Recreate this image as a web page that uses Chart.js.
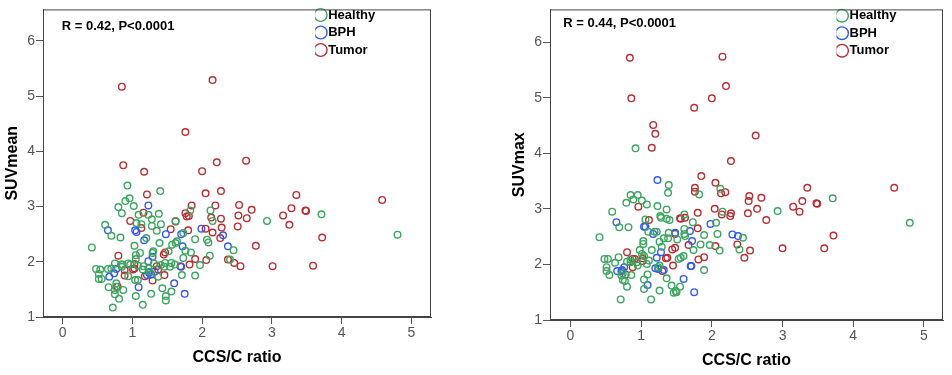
<!DOCTYPE html>
<html>
<head>
<meta charset="utf-8">
<script src="https://cdn.jsdelivr.net/npm/chart.js@4/dist/chart.umd.min.js"></script>
<style>
  body { margin: 0; background: #fff; }
  .wrap { display: flex; width: 952px; height: 375px; }
  .wrap div { width: 476px; height: 375px; }
</style>
</head>
<body>
<div class="wrap">
  <div><canvas id="mean-chart" width="476" height="375"></canvas></div>
  <div><canvas id="max-chart" width="476" height="375"></canvas></div>
</div>
<script>
// tick labels
const xTicks = [0, 1, 2, 3, 4, 5]
const yTicks = [1, 2, 3, 4, 5, 6]
const groups = ['Healthy', 'BPH', 'Tumor']
const colors = ['rgb(60,165,95)', 'rgb(50,90,240)', 'rgb(185,45,50)']

// SUVmean vs CCS/C ratio, [x, y]
const meanHealthy = [
  [0.93,3.38],[0.96,3.15],[0.90,3.10],[0.80,2.99],[1.02,3.01],[0.85,2.88],[1.40,3.28],[1.23,2.85],
  [1.38,2.87],[1.09,2.85],[1.28,2.77],[2.12,2.93],[1.83,2.93],[3.71,2.86],[2.93,2.74],[1.06,2.70],
  [1.13,2.68],[1.28,2.65],[1.35,2.56],[1.41,2.68],[1.62,2.74],[2.15,2.74],[0.61,2.67],[0.70,2.47],
  [0.83,2.44],[1.20,2.43],[1.39,2.34],[4.80,2.49],[1.90,2.41],[2.07,2.40],[2.09,2.35],[1.62,2.34],
  [1.64,2.37],[1.57,2.31],[1.73,2.52],[0.42,2.26],[1.03,2.29],[1.11,2.16],[1.30,2.19],[1.05,2.12],
  [1.05,2.05],[1.29,2.16],[1.84,2.17],[1.76,2.20],[2.45,2.21],[2.11,2.11],[2.40,2.04],[1.73,2.07],
  [1.52,2.19],[0.48,1.87],[0.54,1.86],[0.52,1.78],[0.52,1.69],[0.56,1.69],[0.65,1.87],[0.70,1.88],
  [0.75,1.97],[0.85,1.91],[0.86,1.95],[0.94,1.97],[0.97,1.95],[1.08,1.93],[1.16,1.92],[1.15,1.86],
  [0.94,1.74],[1.08,1.67],[1.04,1.67],[1.37,1.73],[1.46,1.91],[1.47,1.98],[1.54,1.91],[1.56,1.98],
  [1.61,1.95],[1.97,1.94],[0.66,1.54],[0.77,1.61],[0.77,1.55],[0.75,1.49],[0.75,1.41],[0.81,1.33],
  [0.87,1.49],[0.72,1.17],[1.05,1.38],[1.15,1.22],[1.27,1.42],[1.43,1.52],[1.48,1.38],[1.48,1.30],
  [1.56,1.46],[1.71,1.76],[1.90,1.75],[1.23,1.88],[1.25,1.82],[1.31,1.97],[1.41,1.94],[0.84,1.95]
]
const meanBph = [
  [1.23,3.02],[0.65,2.57],[1.04,2.57],[1.06,2.54],[1.17,2.39],[1.48,2.50],[1.70,2.50],[1.99,2.60],
  [2.30,2.48],[1.72,2.28],[2.37,2.28],[1.29,2.09],[1.23,2.01],[1.70,1.91],[0.67,1.73],[0.74,1.79],
  [0.77,1.87],[1.24,1.80],[1.27,1.77],[1.32,1.82],[1.21,1.76],[1.09,1.54],[1.60,1.61],[1.75,1.42]
]
const meanTumor = [
  [0.85,5.17],[2.15,5.29],[1.76,4.35],[0.87,3.75],[1.17,3.63],[2.21,3.80],[2.63,3.83],[2.00,3.64],
  [1.21,3.22],[2.05,3.24],[2.27,3.28],[3.35,3.21],[4.58,3.12],[1.85,3.02],[2.19,3.02],[2.53,3.03],
  [2.71,2.94],[3.28,2.97],[3.48,2.93],[3.49,2.92],[3.16,2.84],[1.76,2.88],[1.78,2.82],[1.81,2.83],
  [1.16,2.89],[0.97,2.74],[1.62,2.73],[2.27,2.78],[2.13,2.80],[2.64,2.79],[2.52,2.84],[3.25,2.67],
  [1.13,2.61],[1.55,2.59],[1.80,2.57],[2.05,2.60],[2.15,2.53],[2.28,2.62],[2.51,2.64],[2.26,2.43],
  [3.72,2.44],[2.77,2.29],[0.80,2.11],[1.47,2.17],[1.45,2.13],[1.90,2.05],[2.06,2.03],[2.37,2.04],
  [2.46,1.98],[2.55,1.92],[3.01,1.92],[3.59,1.93],[1.82,1.95],[1.69,1.92],[1.03,1.96],[1.03,1.88],
  [0.89,1.85],[0.89,1.75],[1.18,1.74],[1.35,1.92],[1.37,1.86],[1.46,1.76],[1.29,1.66],[0.79,1.55],
  [1.01,1.86]
]

// SUVmax vs CCS/C ratio, [x, y]
const maxHealthy = [
  [0.92,4.09],[1.39,3.43],[1.38,3.29],[0.85,3.25],[0.95,3.25],[0.89,3.17],[1.01,3.15],[1.08,3.08],
  [0.79,3.11],[1.23,3.05],[1.36,2.99],[0.59,2.95],[1.82,3.26],[2.12,3.36],[3.71,3.19],[2.93,2.96],
  [2.15,2.95],[1.61,2.90],[1.27,2.87],[1.28,2.84],[1.36,2.82],[1.40,2.80],[1.06,2.81],[2.06,2.75],
  [1.73,2.76],[0.69,2.67],[0.82,2.67],[1.10,2.59],[1.19,2.59],[1.39,2.57],[1.61,2.64],[1.61,2.55],
  [1.62,2.51],[1.89,2.53],[2.08,2.55],[2.44,2.48],[4.80,2.75],[0.41,2.49],[1.03,2.42],[1.03,2.37],
  [1.26,2.41],[1.29,2.32],[1.32,2.47],[1.38,2.47],[1.51,2.45],[1.84,2.36],[1.97,2.35],[1.74,2.26],
  [2.11,2.25],[2.39,2.27],[0.98,2.26],[1.15,2.26],[1.01,2.19],[1.04,2.15],[0.48,2.10],[0.53,2.10],
  [0.68,2.13],[0.85,2.09],[0.85,2.04],[0.94,2.04],[0.95,1.98],[0.51,1.95],[0.51,1.88],[0.55,1.81],
  [0.63,2.03],[0.80,2.05],[1.08,2.01],[1.11,2.07],[1.53,2.10],[1.56,2.12],[1.60,2.15],[1.24,1.95],
  [1.26,1.98],[1.89,1.90],[0.74,1.84],[0.72,1.80],[0.86,1.81],[1.09,1.82],[0.74,1.72],[0.77,1.70],
  [1.04,1.73],[1.36,1.75],[0.80,1.60],[1.04,1.56],[1.43,1.62],[1.55,1.60],[1.49,1.52],[1.50,1.50],
  [1.26,1.53],[0.71,1.37],[1.14,1.37],[1.46,1.49],[1.22,2.59]
]
const maxBph = [
  [1.23,3.52],[0.65,2.76],[1.04,2.68],[1.06,2.68],[1.17,2.55],[1.48,2.57],[1.69,2.60],[1.98,2.73],
  [2.29,2.54],[2.37,2.51],[1.72,2.42],[1.28,2.22],[1.22,2.12],[0.76,1.95],[0.73,1.90],[0.66,1.88],
  [0.72,1.88],[1.20,1.93],[1.24,1.92],[1.32,1.90],[1.70,1.97],[1.71,1.97],[1.60,1.74],[1.09,1.63],
  [1.75,1.50]
]
const maxTumor = [
  [0.84,5.72],[2.15,5.74],[2.20,5.21],[0.86,4.99],[2.00,4.99],[1.75,4.82],[1.17,4.51],[1.20,4.35],
  [1.15,4.10],[2.62,4.32],[2.27,3.86],[1.85,3.59],[2.05,3.47],[1.76,3.38],[1.76,3.31],[2.13,3.28],
  [2.19,3.30],[3.35,3.38],[4.58,3.38],[2.53,3.23],[2.52,3.14],[2.70,3.20],[3.28,3.14],[3.48,3.10],
  [3.49,3.09],[3.15,3.04],[3.24,2.95],[2.64,3.00],[2.04,3.00],[2.27,2.92],[2.26,2.87],[2.14,2.90],
  [2.51,2.92],[2.77,2.80],[0.96,3.04],[1.80,2.93],[1.11,2.80],[1.55,2.83],[1.56,2.82],[1.62,2.84],
  [1.80,2.65],[1.48,2.55],[1.67,2.35],[2.05,2.33],[2.36,2.36],[2.54,2.25],[3.00,2.29],[3.59,2.29],
  [3.72,2.52],[2.46,2.12],[1.89,2.13],[1.81,2.09],[1.44,2.27],[1.48,2.30],[1.35,2.11],[1.37,2.12],
  [0.80,2.22],[0.88,2.10],[0.91,2.10],[0.88,1.95],[1.02,2.11],[1.02,2.06],[1.45,1.98],[1.30,1.88],
  [0.78,1.82]
]

const FONT = 'Arial, "Liberation Sans", sans-serif'
Chart.defaults.font.family = FONT

// box round the plot area
const plotFrame = {
  id: 'plotFrame',
  beforeDatasetsDraw(chart) {
    const a = chart.chartArea, ctx = chart.ctx
    ctx.save()
    ctx.strokeStyle = '#444'
    ctx.lineWidth = 1
    ctx.strokeRect(a.left + 0.5, a.top + 0.5, a.width - 1, a.height - 1)
    ctx.restore()
  }
}

// correlation note inside the plot
const statNote = {
  id: 'statNote',
  afterDraw(chart, args, opts) {
    const a = chart.chartArea, ctx = chart.ctx
    ctx.save()
    ctx.font = 'bold 13px ' + FONT
    ctx.fillStyle = '#000'
    ctx.textBaseline = 'middle'
    ctx.fillText(opts.text, a.left + opts.dx, a.top + opts.dy)
    ctx.restore()
  }
}

// move the chartArea legend to the top right corner
const legendInside = {
  id: 'legendInside',
  afterLayout(chart, args, opts) {
    const lg = chart.legend
    if (!lg) return
    const w = lg.width, h = lg.height
    lg.left = opts.x
    lg.right = opts.x + w
    lg.top = opts.y
    lg.bottom = opts.y + h
  }
}

function makeChart(id, sets, yTitle, note, p) {
  const ctx = document.getElementById(id).getContext('2d')
  const data = {
    datasets: sets.map((pts, i) => ({
      label: groups[i],
      data: pts.map(([x, y]) => ({ x, y })),
      borderColor: colors[i],
      backgroundColor: 'rgba(0,0,0,0)',
      pointRadius: 3.3,
      pointBorderWidth: 1.4,
      borderWidth: 1.2,
      pointStyle: 'circle'
    }))
  }
  const config = {
    type: 'scatter',
    data,
    options: {
      responsive: false,
      animation: false,
      layout: { padding: { left: 0, right: p.padRight, top: 6, bottom: 0 } },
      plugins: {
        legend: {
          position: 'chartArea',
          align: 'start',
          labels: {
            usePointStyle: true,
            boxWidth: 2,
            boxHeight: 9,
            padding: 4.5,
            color: '#000',
            font: { size: 13, weight: 'bold' }
          }
        },
        tooltip: { enabled: false },
        statNote: note,
        legendInside: { x: p.legendX, y: p.legendY }
      },
      scales: {
        x: {
          type: 'linear',
          min: p.xMin,
          max: p.xMax,
          afterBuildTicks: s => { s.ticks = xTicks.map(v => ({ value: v })) },
          afterFit: s => { s.height = p.xHeight },
          grid: { drawOnChartArea: false, tickLength: 7, color: '#555' },
          border: { color: '#444' },
          ticks: { padding: 1, color: '#555', font: { size: 14 } },
          title: {
            display: true,
            text: 'CCS/C ratio',
            color: '#000',
            font: { size: 16, weight: 'bold' },
            padding: { top: 0, bottom: p.xTitlePad }
          }
        },
        y: {
          type: 'linear',
          min: 1,
          max: p.yMax,
          afterBuildTicks: s => { s.ticks = yTicks.map(v => ({ value: v })) },
          afterFit: s => { s.width = p.yWidth },
          grid: { drawOnChartArea: false, tickLength: 7, color: '#555' },
          border: { color: '#444' },
          ticks: { padding: 1, color: '#555', font: { size: 14 } },
          title: {
            display: true,
            text: yTitle,
            color: '#000',
            font: { size: 16, weight: 'bold' },
            padding: { top: p.yTitlePad, bottom: 0 }
          }
        }
      }
    },
    plugins: [plotFrame, statNote, legendInside]
  }
  return new Chart(ctx, config)
}

const meanChart = makeChart('mean-chart', [meanHealthy, meanBph, meanTumor], 'SUVmean',
  { text: 'R = 0.42, P<0.0001', dx: 18.7, dy: 16.7 },
  { padRight: 45, xHeight: 58, yWidth: 43, xMin: -0.28, xMax: 5.28, yMax: 6.57,
    xTitlePad: 8, yTitlePad: 3, legendX: 315.2, legendY: 4 })

const maxChart = makeChart('max-chart', [maxHealthy, maxBph, maxTumor], 'SUVmax',
  { text: 'R = 0.44, P<0.0001', dx: 13.3, dy: 14 },
  { padRight: 9, xHeight: 55, yWidth: 74, xMin: -0.29, xMax: 5.27, yMax: 6.59,
    xTitlePad: 5, yTitlePad: 34, legendX: 360.5, legendY: 4.7 })
</script>
</body>
</html>
